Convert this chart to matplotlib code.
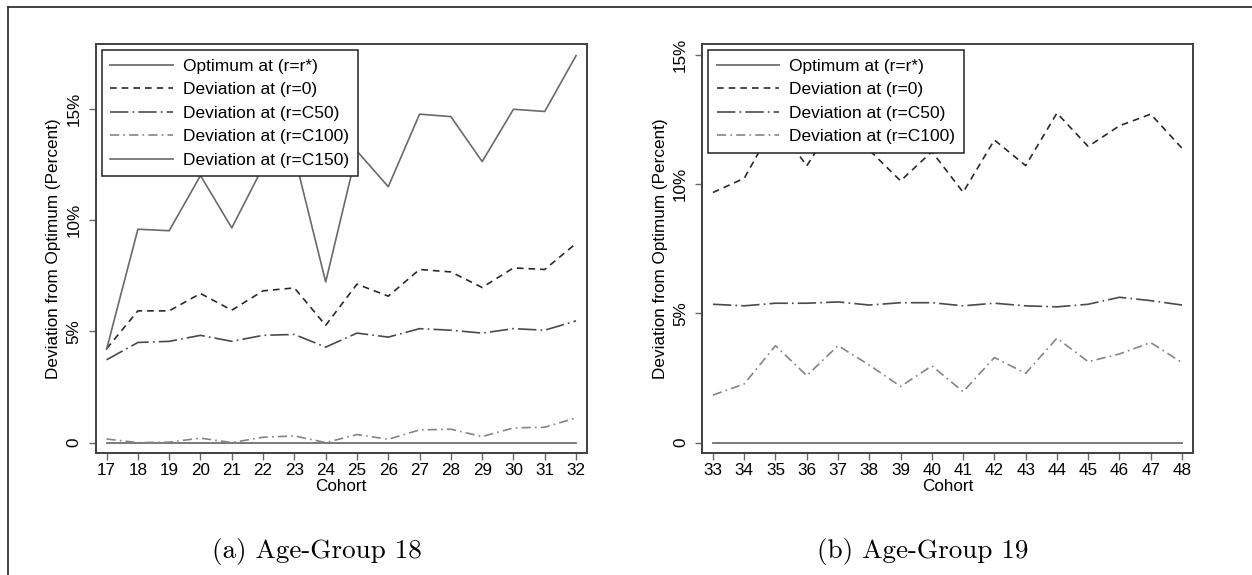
import matplotlib.pyplot as plt
from matplotlib.lines import Line2D

# cohorts
cohort_a = list(range(17, 33))
cohort_b = list(range(33, 49))

# Age-Group 18 (percent)
opt_a = [0.0] * 16
r0_a = [4.22, 5.92, 5.92, 6.70, 5.95, 6.82, 6.95, 5.27, 7.12, 6.58, 7.78, 7.67, 6.97, 7.85, 7.78, 8.95]
c50_a = [3.72, 4.50, 4.55, 4.82, 4.55, 4.82, 4.86, 4.29, 4.92, 4.74, 5.12, 5.05, 4.92, 5.12, 5.05, 5.47]
c100_a = [0.16, 0.0, 0.02, 0.20, 0.0, 0.24, 0.30, 0.0, 0.36, 0.15, 0.57, 0.60, 0.27, 0.66, 0.69, 1.11]
c150_a = [4.20, 9.59, 9.52, 12.0, 9.65, 12.4, 12.9, 7.22, 13.1, 11.5, 14.76, 14.65, 12.63, 14.98, 14.88, 17.39]

# Age-Group 19 (percent)
opt_b = [0.0] * 16
r0_b = [9.67, 10.22, 12.37, 10.70, 12.6, 11.31, 10.12, 11.25, 9.68, 11.70, 10.71, 12.74, 11.45, 12.25, 12.70, 11.38]
c50_b = [5.35, 5.29, 5.39, 5.39, 5.44, 5.32, 5.41, 5.41, 5.29, 5.39, 5.29, 5.25, 5.35, 5.62, 5.49, 5.32]
c100_b = [1.84, 2.27, 3.75, 2.59, 3.75, 3.00, 2.17, 2.97, 1.97, 3.29, 2.68, 4.04, 3.13, 3.43, 3.87, 3.09]

ytick_vals = [0, 5, 10, 15]
ytick_labels = ['0', '5%', '10%', '15%']

plt.rcParams['font.family'] = ['Liberation Sans', 'DejaVu Sans']

fig = plt.figure(figsize=(12.52, 5.75), dpi=100)

styles = {
    'opt': dict(color='#707070', lw=1.3, ls='-'),
    'r0': dict(color='#2a2a2a', lw=1.2, dashes=(4, 3)),
    'c50': dict(color='#4a4a4a', lw=1.2, dashes=(11, 2.5, 1, 2.5)),
    'c100': dict(color='#858585', lw=1.2, dashes=(5.5, 2.5, 1, 2.5)),
    'c150': dict(color='#6a6a6a', lw=1.2, ls='-'),
}


def setup(ax, xs, ylim):
    ax.set_xlim(xs[0] - 0.35, xs[-1] + 0.34)
    ax.set_ylim(*ylim)
    ax.set_xticks(xs)
    ax.set_xticklabels([str(x) for x in xs])
    ax.set_yticks(ytick_vals)
    ax.set_yticklabels(ytick_labels, rotation=90, va='center')
    ax.tick_params(axis='both', direction='out', length=5, width=1.0,
                   color='#666666', labelsize=12.3)
    ax.tick_params(axis='x', pad=2)
    ax.tick_params(axis='y', pad=5)
    for sp in ax.spines.values():
        sp.set_color('#404040')
        sp.set_linewidth(1.4)
    ax.set_xlabel('Cohort', fontsize=12.3, labelpad=1)
    ax.set_ylabel('Deviation from Optimum (Percent)', fontsize=12.3, labelpad=4)


ax1 = fig.add_axes([0.0764, 0.2117, 0.3922, 0.7113])
ax1.plot(cohort_a, opt_a, label='Optimum at (r=r*)', **styles['opt'])
ax1.plot(cohort_a, r0_a, label='Deviation at (r=0)', **styles['r0'])
ax1.plot(cohort_a, c50_a, label='Deviation at (r=C50)', **styles['c50'])
ax1.plot(cohort_a, c100_a, label='Deviation at (r=C100)', **styles['c100'])
ax1.plot(cohort_a, c150_a, label='Deviation at (r=C150)', **styles['c150'])
setup(ax1, cohort_a, (-0.48, 17.9))

ax2 = fig.add_axes([0.5607, 0.2117, 0.3919, 0.7113])
ax2.plot(cohort_b, opt_b, label='Optimum at (r=r*)', **styles['opt'])
ax2.plot(cohort_b, r0_b, label='Deviation at (r=0)', **styles['r0'])
ax2.plot(cohort_b, c50_b, label='Deviation at (r=C50)', **styles['c50'])
ax2.plot(cohort_b, c100_b, label='Deviation at (r=C100)', **styles['c100'])
setup(ax2, cohort_b, (-0.41, 15.4))

for ax in (ax1, ax2):
    leg = ax.legend(loc='upper left', bbox_to_anchor=(0.012, 0.986),
                    fontsize=12.5, frameon=True, fancybox=False,
                    framealpha=1, edgecolor='#222222', handlelength=3.6,
                    handletextpad=0.6, labelspacing=0.48, borderpad=0.5,
                    borderaxespad=0)
    leg.get_frame().set_linewidth(1.1)

fig.text(0.2532, 0.0405, '(a) Age-Group 18', ha='center', va='center',
         fontsize=19.5, family='cmr10')
fig.text(0.737, 0.0405, '(b) Age-Group 19', ha='center', va='center',
         fontsize=19.5, family='cmr10')

# outer frame (top and left edges)
fig.add_artist(Line2D([0.006, 1.0], [1 - 6.5 / 575, 1 - 6.5 / 575],
                      transform=fig.transFigure, color='#333333', lw=1.3))
fig.add_artist(Line2D([0.006, 0.006], [0.0, 1 - 6.5 / 575],
                      transform=fig.transFigure, color='#333333', lw=1.3))

fig.savefig('out.png', dpi=100)
